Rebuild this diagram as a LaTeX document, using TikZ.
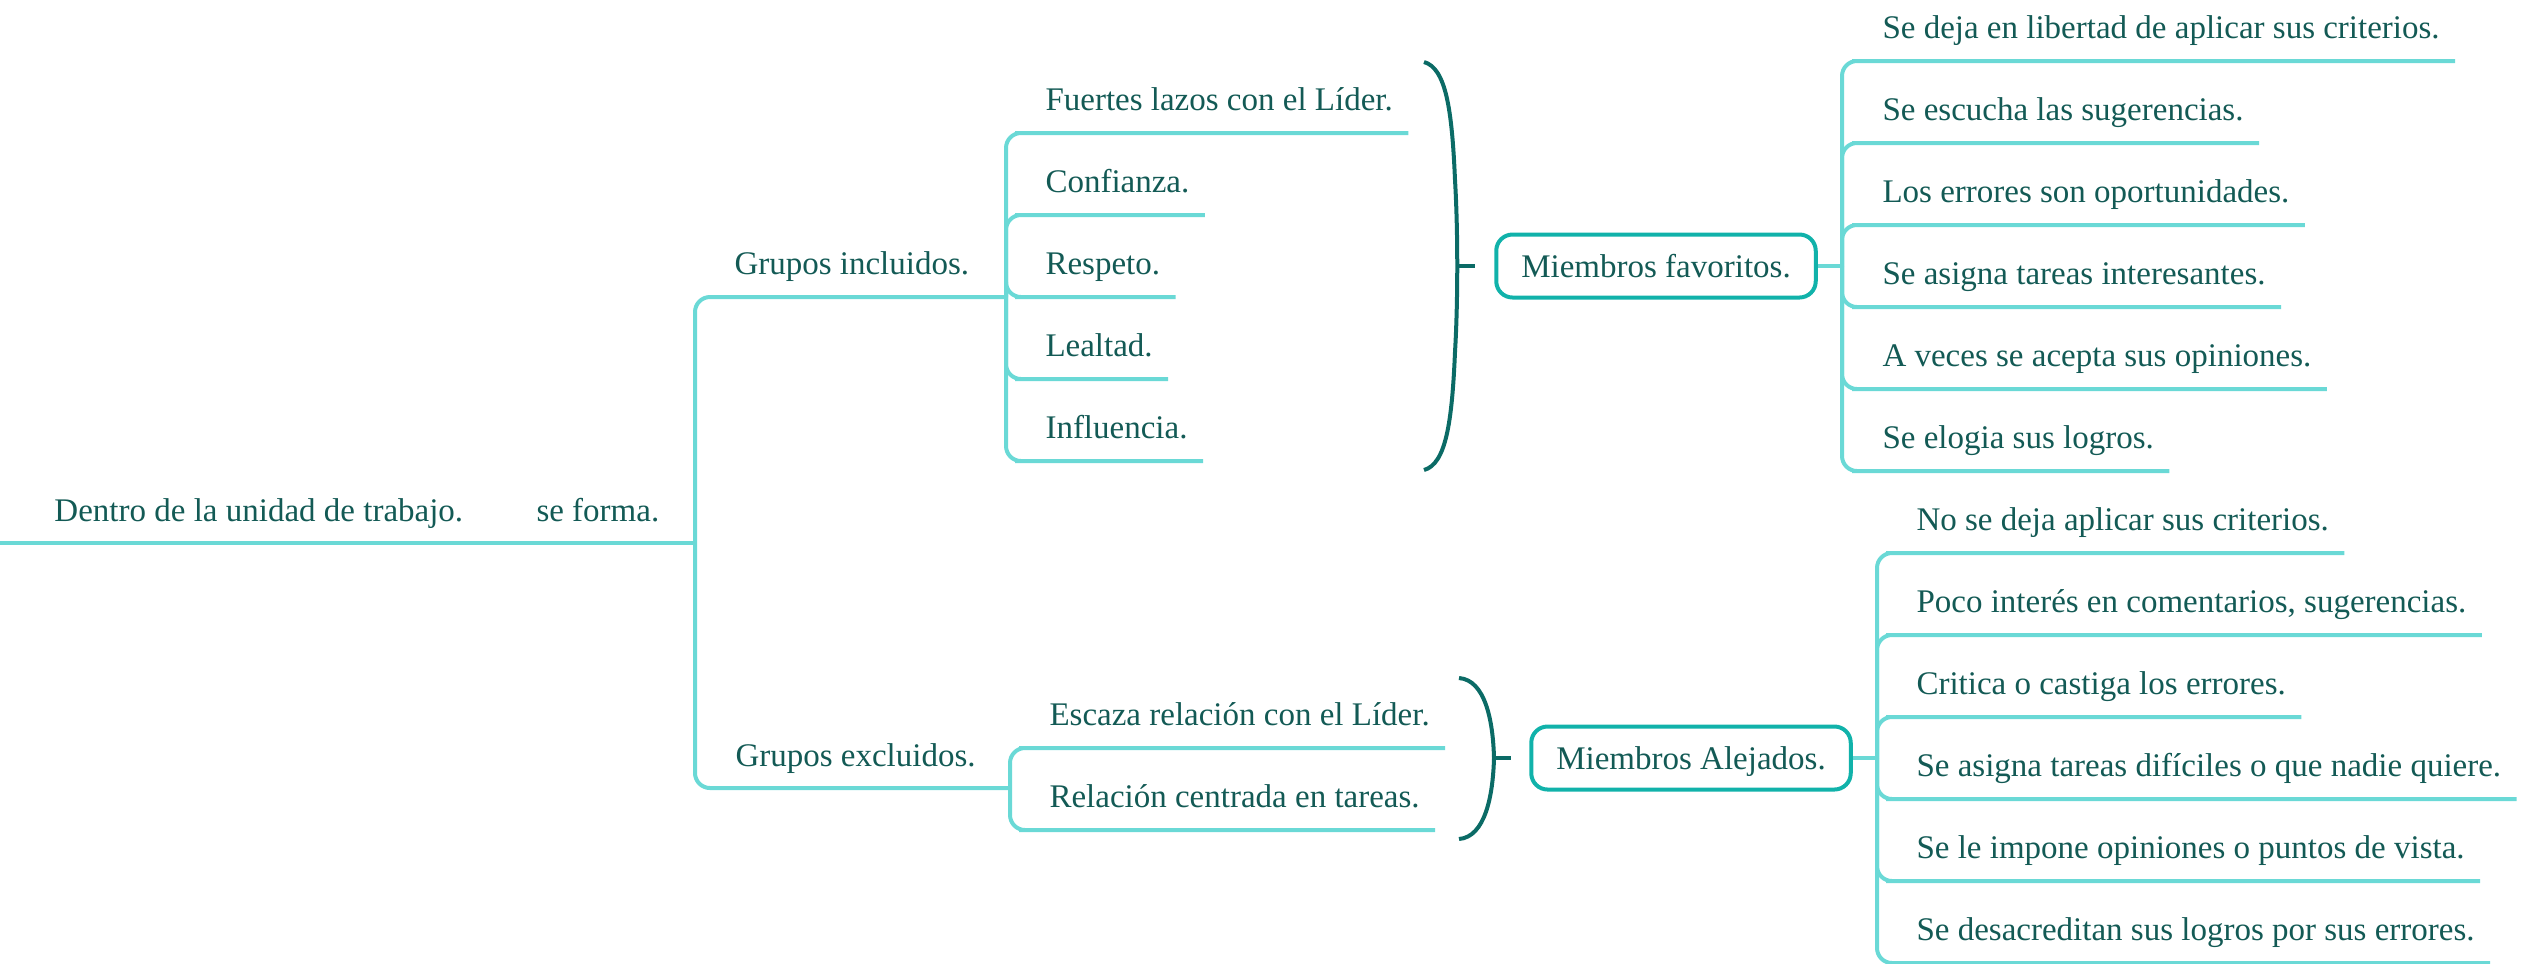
\documentclass[tikz,border=0pt]{standalone}
\usepackage{fontspec}
\setmainfont{Liberation Serif}
\usetikzlibrary{calc}
\definecolor{linecol}{HTML}{6AD9D6}
\definecolor{inkcol}{HTML}{135A55}
\definecolor{bracecol}{HTML}{0B6B66}
\definecolor{boxcol}{HTML}{11B2AA}
\tikzset{
    link/.style = {draw = linecol, line width = 1.6pt, rounded corners = 6pt},
    label/.style = {anchor = base west, inner sep = 0pt, text = inkcol, font = \fontsize{13.2}{16}\selectfont},
    member/.style = {draw = boxcol, line width = 1.6pt, rounded corners = 6.5pt, text = inkcol,
        font = \fontsize{13.2}{16}\selectfont, inner xsep = 10pt, minimum height = 25.2pt, text depth = 0pt},
    curly/.style = {draw = bracecol, line width = 1.6pt}
}
\begin{document}
\begin{tikzpicture}[x = 0.4pt, y = -0.4pt]
    \useasboundingbox (0,0) rectangle (2521,963);
    % root
    \node[label] (root) at (54,521) {Dentro de la unidad de trabajo.};
    \node[label] (forma) at (536,521) {se forma.};
    \coordinate (o) at (0,543);
    \coordinate (t0) at (695,543);
    \draw[link] (o) -- (t0);
    % two groups
    \node[label] (inc) at (734,274) {Grupos incluidos.};
    \node[label] (exc) at (735,766) {Grupos excluidos.};
    \coordinate (t1) at (1006,297);
    \coordinate (t2) at (1010,788);
    \draw[link] (t0) |- (t1);
    \draw[link] (t0) |- (t2);
    % included
    \foreach \txt [count = \i] in {Fuertes lazos con el Líder., Confianza., Respeto., Lealtad., Influencia.} {
        \node[label] (inc\i) at (1045,28+82*\i) {\txt};
        \draw[link] (t1) |- ($(inc\i.base west)+(-15,23)$) -- ($(inc\i.base east)+(15,23)$);
    }
    % excluded
    \foreach \txt [count = \i] in {Escaza relación con el Líder., Relación centrada en tareas.} {
        \node[label] (exc\i) at (1049,643+82*\i) {\txt};
        \draw[link] (t2) |- ($(exc\i.base west)+(-15,23)$) -- ($(exc\i.base east)+(15,23)$);
    }
    % braces
    \draw[curly] (1424,62) .. controls (1446,68) and (1452,110) .. (1455,180)
        .. controls (1458,230) and (1458,302) .. (1455,352)
        .. controls (1452,422) and (1446,464) .. (1424,470);
    \draw[curly] (1458,266) -- (1475,266);
    \draw[curly] (1459,678) .. controls (1485,680) and (1493,720) .. (1494,758)
        .. controls (1493,796) and (1485,837) .. (1459,839);
    \draw[curly] (1494,758) -- (1511,758);
    % favourite members
    \node[member] (fav) at (1656,266) {Miembros favoritos.};
    \coordinate (f0) at (1842,266);
    \draw[link] (fav.east) -- (f0);
    \foreach \txt [count = \i] in {Se deja en libertad de aplicar sus criterios., Se escucha las sugerencias.,
        Los errores son oportunidades., Se asigna tareas interesantes., A veces se acepta sus opiniones.,
        Se elogia sus logros.} {
        \node[label] (fav\i) at (1882,-44+82*\i) {\txt};
        \draw[link] (f0) |- ($(fav\i.base west)+(-15,23)$) -- ($(fav\i.base east)+(15,23)$);
    }
    % distant members
    \node[member] (dist) at (1691,758) {Miembros Alejados.};
    \coordinate (d0) at (1877,758);
    \draw[link] (dist.east) -- (d0);
    \foreach \txt [count = \i] in {No se deja aplicar sus criterios., {Poco interés en comentarios, sugerencias.},
        Critica o castiga los errores., Se asigna tareas difíciles o que nadie quiere.,
        Se le impone opiniones o puntos de vista., Se desacreditan sus logros por sus errores.} {
        \node[label] (dist\i) at (1916,448+82*\i) {\txt};
        \draw[link] (d0) |- ($(dist\i.base west)+(-15,23)$) -- ($(dist\i.base east)+(15,23)$);
    }
\end{tikzpicture}
\end{document}
